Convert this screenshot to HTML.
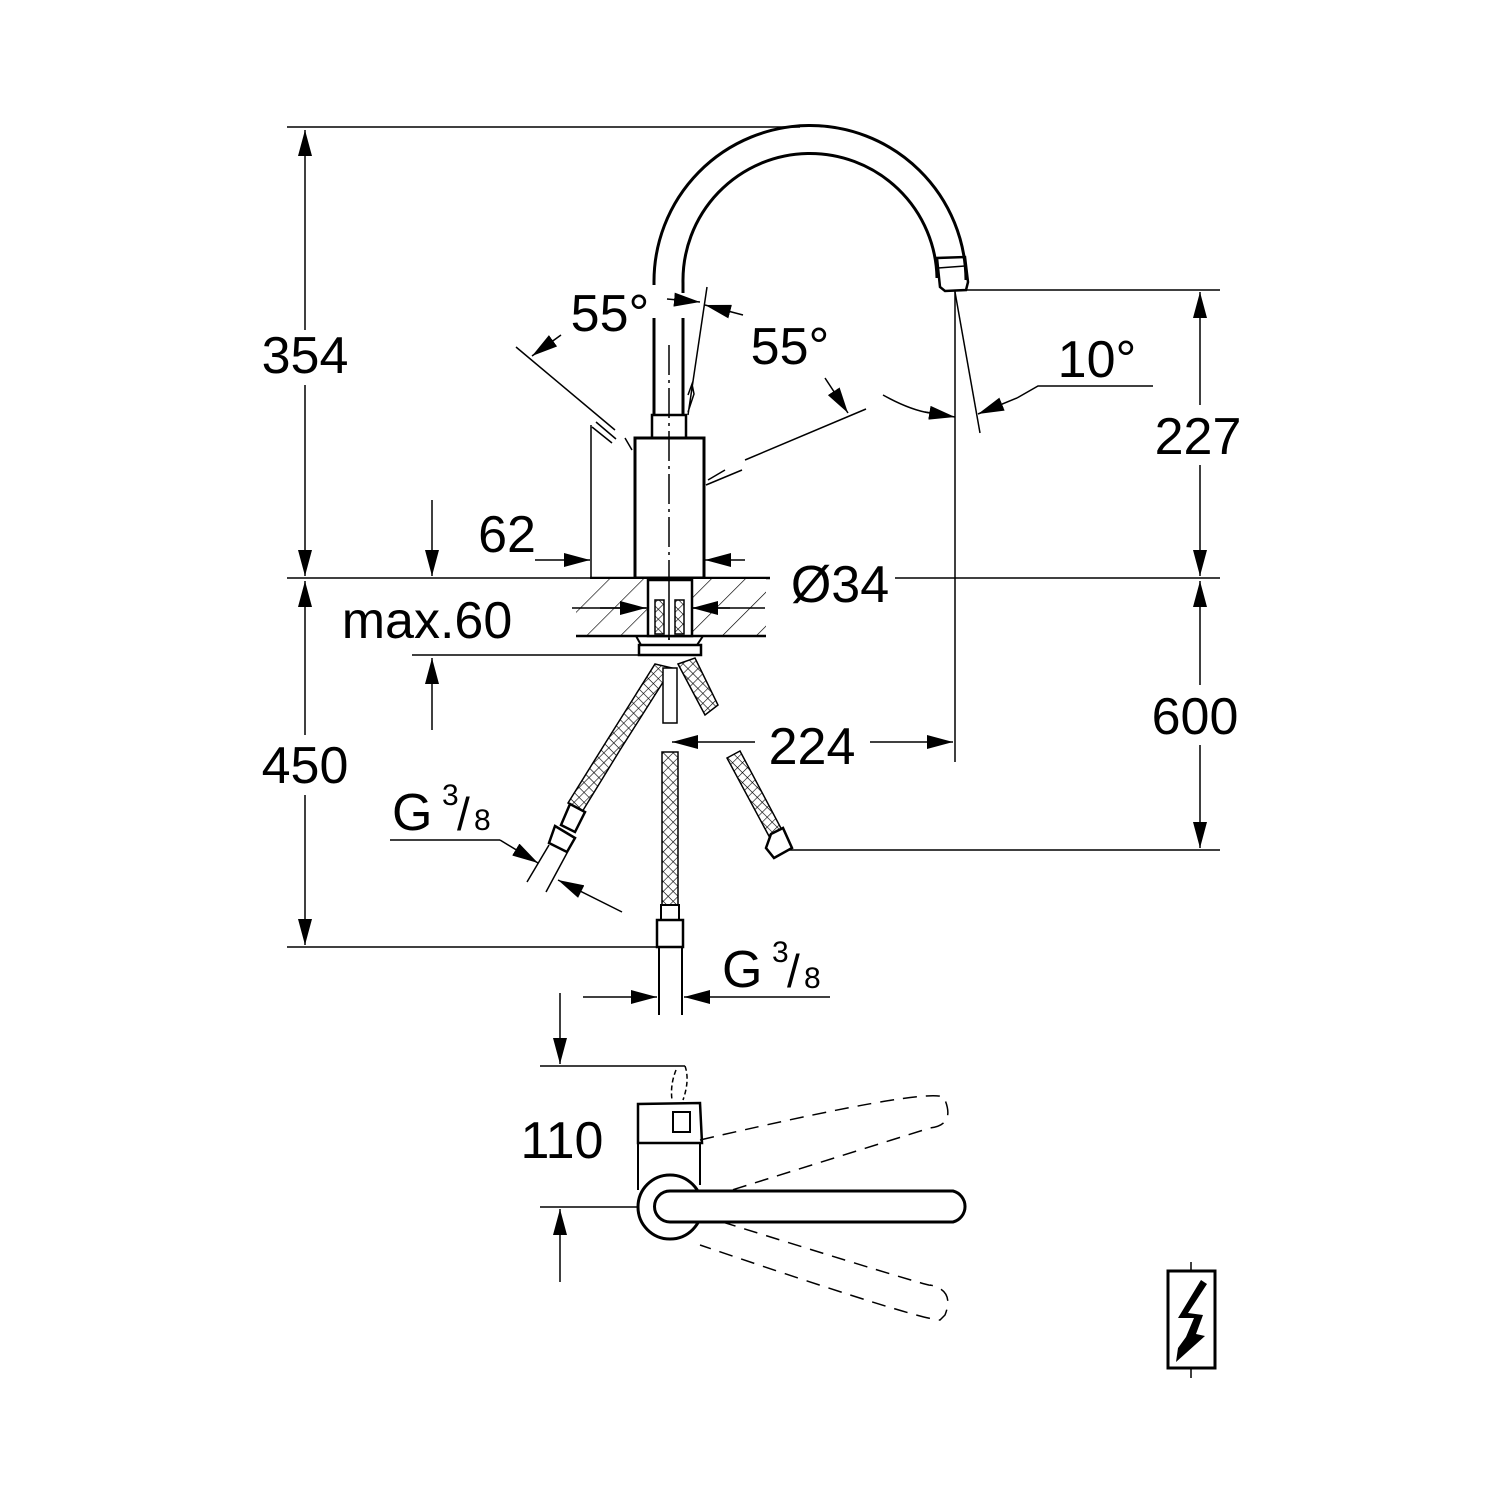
<!DOCTYPE html>
<html><head><meta charset="utf-8"><style>
html,body{margin:0;padding:0;background:#fff}
svg{display:block}
text{font-family:"Liberation Sans",sans-serif;fill:#000}
</style></head><body>
<svg width="1500" height="1500" viewBox="0 0 1500 1500" xmlns="http://www.w3.org/2000/svg">
<defs>
<marker id="a" markerUnits="userSpaceOnUse" markerWidth="28" markerHeight="14" refX="26" refY="7" orient="auto"><path d="M0,0 L26,7 L0,14 Z" fill="#000"/></marker>
<pattern id="h" width="7" height="7" patternUnits="userSpaceOnUse" patternTransform="rotate(45)"><rect width="7" height="7" fill="#fff"/><path d="M0,0 H7 M0,0 V7" stroke="#000" stroke-width="1.2"/></pattern>
<pattern id="d" width="24" height="24" patternUnits="userSpaceOnUse" patternTransform="rotate(45)"><rect width="24" height="24" fill="#fff"/><path d="M0,0 V24" stroke="#000" stroke-width="1.3"/></pattern>
</defs>
<g stroke="#000" fill="none" stroke-width="1.5">
<line x1="287" y1="127" x2="800" y2="127"/>
<line x1="305" y1="330" x2="305" y2="130" marker-end="url(#a)"/>
<line x1="305" y1="385" x2="305" y2="576" marker-end="url(#a)"/>
<line x1="287" y1="578" x2="590" y2="578"/>
<line x1="590" y1="578" x2="770" y2="578" stroke-width="2.5"/>
<line x1="895" y1="578" x2="1220" y2="578"/>
<line x1="305" y1="735" x2="305" y2="581" marker-end="url(#a)"/>
<line x1="305" y1="795" x2="305" y2="945" marker-end="url(#a)"/>
<line x1="287" y1="947" x2="660" y2="947"/>
<line x1="967" y1="290" x2="1220" y2="290"/>
<line x1="1200" y1="405" x2="1200" y2="292" marker-end="url(#a)"/>
<line x1="1200" y1="465" x2="1200" y2="576" marker-end="url(#a)"/>
<line x1="1200" y1="685" x2="1200" y2="581" marker-end="url(#a)"/>
<line x1="1200" y1="745" x2="1200" y2="848" marker-end="url(#a)"/>
<line x1="785" y1="850" x2="1220" y2="850"/>
<path d="M654,285 L654,283 A156,156 0 0 1 966,280" stroke-width="3"/>
<path d="M683,293 L683,283 A127,127 0 0 1 937,278" stroke-width="3"/>
<path d="M937,258 L940,287 L945,291 L966,290 L968,282 L965,257 Z" stroke-width="2.5"/>
<line x1="938" y1="268" x2="965" y2="266"/>
<line x1="654" y1="318" x2="654" y2="415" stroke-width="3"/>
<line x1="683" y1="318" x2="683" y2="415" stroke-width="3"/>
<rect x="652" y="415" width="34" height="23" stroke-width="2.5"/>
<rect x="635" y="438" width="69" height="140" stroke-width="3"/>
<line x1="669" y1="345" x2="669" y2="640" stroke-dasharray="30,5,3,5"/>
<path d="M707,287 L688,415 M688,395 L692,384 L694,394 L688,412" stroke-width="1.5"/>
<line x1="516" y1="347" x2="615" y2="430"/>
<line x1="625" y1="438" x2="632" y2="450"/>
<line x1="592" y1="427" x2="612" y2="443"/>
<line x1="596" y1="422" x2="616" y2="439"/>
<line x1="561" y1="335" x2="532" y2="356" marker-end="url(#a)"/>
<line x1="667" y1="299" x2="700" y2="302" marker-end="url(#a)"/>
<line x1="743" y1="315" x2="705" y2="305" marker-end="url(#a)"/>
<line x1="866" y1="409" x2="745" y2="460"/>
<line x1="742" y1="470" x2="706" y2="485"/>
<line x1="825" y1="378" x2="848" y2="413" marker-end="url(#a)"/>
<line x1="708" y1="480" x2="725" y2="470"/>
<line x1="955" y1="290" x2="955" y2="762"/>
<line x1="955" y1="292" x2="980" y2="433"/>
<path d="M883,395 Q910,410 930,413"/>
<line x1="925" y1="412" x2="955" y2="417" marker-end="url(#a)"/>
<path d="M1153,386 L1038,386 L1017,398"/>
<line x1="1017" y1="398" x2="978" y2="414" marker-end="url(#a)"/>
<line x1="591" y1="425" x2="591" y2="578"/>
<line x1="535" y1="560" x2="590" y2="560" marker-end="url(#a)"/>
<line x1="745" y1="560" x2="705" y2="560" marker-end="url(#a)"/>
<line x1="704" y1="548" x2="704" y2="580"/>
<rect x="576" y="579" width="190" height="57" fill="url(#d)" stroke="none"/>
<line x1="576" y1="636" x2="766" y2="636" stroke-width="2.5"/>
<line x1="572" y1="608" x2="765" y2="608"/>
<line x1="600" y1="608" x2="646" y2="608" marker-end="url(#a)"/>
<line x1="730" y1="608" x2="692" y2="608" marker-end="url(#a)"/>
<rect x="648" y="580" width="44" height="56" fill="#fff" stroke-width="2.5"/>
<rect x="655" y="600" width="9" height="34" fill="url(#h)"/>
<rect x="675" y="600" width="9" height="34" fill="url(#h)"/>
<line x1="669" y1="578" x2="669" y2="640"/>
<path d="M636,636 L641,645 L697,645 L703,636" stroke-width="2"/>
<rect x="639" y="645" width="62" height="10" stroke-width="2.5"/>
<line x1="432" y1="500" x2="432" y2="576" marker-end="url(#a)"/>
<line x1="432" y1="730" x2="432" y2="658" marker-end="url(#a)"/>
<line x1="412" y1="655" x2="640" y2="655"/>
<path d="M655,664 L672,668 L620,750 L582,812 L568,803 L606,742 Z" fill="url(#h)" stroke-width="1.5"/>
<path d="M678,664 L695,658 L718,705 L705,715 Z" fill="url(#h)"/>
<path d="M727,758 L740,751 L783,832 L770,838 Z" fill="url(#h)"/>
<rect x="663" y="668" width="14" height="55" fill="#fff"/>
<rect x="662" y="752" width="16" height="155" fill="url(#h)"/>
<rect x="661" y="905" width="18" height="15" fill="#fff" stroke-width="2"/>
<rect x="657" y="920" width="26" height="27" fill="#fff" stroke-width="2.5"/>
<path d="M570,804 L585,812 L575,832 L561,825 Z" fill="#fff" stroke-width="2.5"/>
<path d="M555,826 L575,838 L567,852 L549,843 Z" fill="#fff" stroke-width="2.5"/>
<path d="M771,834 L783,828 L792,848 L774,858 L766,848 Z" fill="#fff" stroke-width="2.5"/>
<line x1="549" y1="845" x2="527" y2="882"/>
<line x1="567" y1="853" x2="546" y2="892"/>
<line x1="659" y1="947" x2="659" y2="1015" stroke-width="2"/>
<line x1="682" y1="947" x2="682" y2="1015" stroke-width="2"/>
<line x1="755" y1="742" x2="672" y2="742" marker-end="url(#a)"/>
<line x1="870" y1="742" x2="953" y2="742" marker-end="url(#a)"/>
<path d="M390,840 L500,840"/>
<line x1="500" y1="840" x2="538" y2="863" marker-end="url(#a)"/>
<line x1="622" y1="912" x2="558" y2="880" marker-end="url(#a)"/>
<line x1="583" y1="997" x2="657" y2="997" marker-end="url(#a)"/>
<line x1="830" y1="997" x2="684" y2="997" marker-end="url(#a)"/>
<line x1="560" y1="993" x2="560" y2="1064" marker-end="url(#a)"/>
<line x1="540" y1="1066" x2="685" y2="1066"/>
<line x1="540" y1="1207" x2="650" y2="1207"/>
<line x1="560" y1="1282" x2="560" y2="1209" marker-end="url(#a)"/>
<path d="M638,1110 L638,1104 L700,1103 L702,1143 L638,1143 Z" stroke-width="2.5"/>
<rect x="673" y="1112" width="17" height="20" stroke-width="2"/>
<path d="M685,1066 Q690,1080 683,1100 M676,1070 Q670,1085 672,1100" stroke-dasharray="5,3"/>
<path d="M638,1143 L638,1190 M700,1143 L700,1185" stroke-width="2"/>
<circle cx="670" cy="1207" r="32" fill="#fff" stroke-width="3"/>
<path d="M700,1140 Q950,1082 945,1100 Q955,1125 930,1128 L700,1200" stroke-dasharray="14,9"/>
<path d="M700,1215 Q940,1290 930,1285 Q955,1290 945,1315 L940,1320 Q920,1320 700,1245" stroke-dasharray="14,9"/>
<path d="M670,1191 L953,1191 A16,16 0 0 1 953,1222 L670,1222 A15.5,15.5 0 0 1 670,1191 Z" fill="#fff" stroke-width="3"/>
<rect x="1168" y="1271" width="47" height="97" stroke-width="3"/>
<line x1="1191" y1="1262" x2="1191" y2="1271"/>
<line x1="1191" y1="1368" x2="1191" y2="1378"/>
<path d="M1201,1280 L1178,1318 L1194,1318 L1186,1337 L1178,1348 L1176,1362 L1205,1336 L1196,1334 L1203,1315 L1188,1313 L1207,1284 Z" fill="#000" stroke="none"/>
</g>
<g font-size="52">
<text x="305" y="373" text-anchor="middle">354</text>
<text x="305" y="783" text-anchor="middle">450</text>
<text x="610" y="331" text-anchor="middle">55°</text>
<text x="790" y="364" text-anchor="middle">55°</text>
<text x="1097" y="377" text-anchor="middle">10°</text>
<text x="1198" y="454" text-anchor="middle">227</text>
<text x="1195" y="734" text-anchor="middle">600</text>
<text x="507" y="552" text-anchor="middle">62</text>
<text x="840" y="602" text-anchor="middle">Ø34</text>
<text x="427" y="638" text-anchor="middle">max.60</text>
<text x="812" y="764" text-anchor="middle">224</text>
<text x="562" y="1158" text-anchor="middle">110</text>
<text x="392" y="830">G</text>
<text x="722" y="987">G</text>
</g>
<g font-size="30">
<text x="442" y="805">3</text><text x="457" y="830" font-size="46">/</text><text x="474" y="830">8</text>
<text x="772" y="962">3</text><text x="787" y="987" font-size="46">/</text><text x="804" y="988">8</text>
</g>
</svg>
</body></html>
